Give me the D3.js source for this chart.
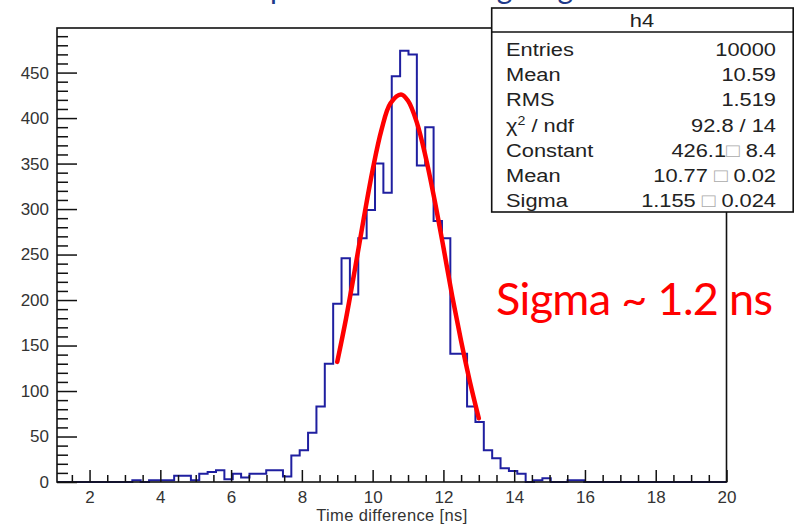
<!DOCTYPE html>
<html>
<head>
<meta charset="utf-8">
<script src="https://cdn.jsdelivr.net/npm/d3@7"></script>
<style>
  body { margin: 0; background: #fff; }
  svg { display: block; }
</style>
</head>
<body>
<div id="chart"></div>
<script>
// histogram h4: 80 bins between xMin and xMax
const xMin = 1.08;
const xMax = 20;
const nBins = 80;
const counts = [
  0, 0, 0, 0, 0, 0, 0, 0, 0,
  2, 0, 2, 2, 2, 7, 7, 2, 9, 11,
  13, 3, 9, 5, 9, 9, 13, 13, 6, 29,
  35, 54, 83, 130, 196, 246, 206, 268, 299, 350,
  318, 446, 474, 470, 348, 390, 287, 268, 141, 141,
  83, 66, 35, 26, 15, 12, 9, 0, 2, 4,
  0, 0, 2, 2,
  0, 0, 0, 0, 0, 0, 0, 0, 0, 0, 0, 0, 0, 0, 0, 0, 0
];
const yMax = 499;

// gaussian fit, points (9 to 13 ns)
const fitX = [9.0, 9.25, 9.5, 9.75, 10.0, 10.25, 10.5, 10.8, 11.0, 11.25, 11.5, 11.75, 12.0, 12.25, 12.5, 12.75, 13.0];
const fitY = [132, 180, 234, 290, 343, 387, 416, 426, 419, 395, 357, 310, 258, 204, 155, 110, 70];

// ticks
const xMajor = [2, 4, 6, 8, 10, 12, 14, 16, 18, 20];
const xMinor = d3.range(1.5, 20, 0.5);
const yMajor = [0, 50, 100, 150, 200, 250, 300, 350, 400, 450];
const yMinor = d3.range(10, 500, 10);

// stats box
const statTitle = "h4";
const statLabels = ["Entries", "Mean", "RMS", "chi2", "Constant", "Mean", "Sigma"];
const statValues = ["10000", "10.59", "1.519", "92.8 / 14", "426.1", "10.77 ", "1.155 "];
const statErrors = [null, null, null, null, "8.4", "0.02", "0.024"];

const titleText = "Output time at rising edge";
const noteText = "Sigma ~ 1.2 ns";
const xLabel = "Time difference [ns]";

const width = 794;
const height = 526;
const frame = { left: 57, right: 726.5, top: 28, bottom: 482 };

const svg = d3.select("#chart").append("svg")
  .attr("width", width)
  .attr("height", height);

const x = d3.scaleLinear().domain([xMin, xMax]).range([frame.left, frame.right]);
const y = d3.scaleLinear().domain([0, yMax]).range([frame.bottom, frame.top]);

// slide title, mostly cut off at the top
svg.append("text")
  .attr("x", 215)
  .attr("y", -1.5)
  .attr("textLength", 375)
  .style("font-family", "Lato, 'Open Sans', sans-serif")
  .style("font-size", "30px")
  .style("fill", "#1f3a8a")
  .text(titleText);

// histogram outline
const binW = (xMax - xMin) / nBins;
const steps = counts.map((c, i) => [xMin + i * binW, c]);
steps.push([xMax, counts[nBins - 1]]);

svg.append("path")
  .datum(steps)
  .attr("fill", "none")
  .attr("stroke", "#1f1fa0")
  .attr("stroke-width", 2)
  .attr("d", d3.line()
    .x((d) => x(d[0]))
    .y((d) => y(d[1]))
    .curve(d3.curveStepAfter));

// fit
svg.append("path")
  .datum(fitX.map((v, i) => [v, fitY[i]]))
  .attr("fill", "none")
  .attr("stroke", "#ff0000")
  .attr("stroke-width", 4.5)
  .attr("stroke-linecap", "round")
  .attr("d", d3.line()
    .x((d) => x(d[0]))
    .y((d) => y(d[1]))
    .curve(d3.curveCatmullRom));

// axes
const axisFont = (g, size) => g.selectAll("text")
  .style("font-family", "'Liberation Sans', Arial, sans-serif")
  .style("font-size", size)
  .style("fill", "#333");

const gx = svg.append("g")
  .attr("transform", `translate(0, ${frame.bottom})`)
  .call(d3.axisBottom(x).tickValues(xMajor).tickSize(-12).tickSizeOuter(0).tickPadding(9));
gx.select(".domain").remove();
axisFont(gx, "17px");

const gxm = svg.append("g")
  .attr("transform", `translate(0, ${frame.bottom})`)
  .call(d3.axisBottom(x).tickValues(xMinor.filter((v) => v % 2 !== 0)).tickSize(-7).tickSizeOuter(0).tickFormat(""));
gxm.select(".domain").remove();

const gy = svg.append("g")
  .attr("transform", `translate(${frame.left}, 0)`)
  .call(d3.axisLeft(y).tickValues(yMajor).tickSize(-20).tickSizeOuter(0).tickPadding(8));
gy.select(".domain").remove();
axisFont(gy, "17px");

const gym = svg.append("g")
  .attr("transform", `translate(${frame.left}, 0)`)
  .call(d3.axisLeft(y).tickValues(yMinor.filter((v) => v % 50 !== 0)).tickSize(-11).tickSizeOuter(0).tickFormat(""));
gym.select(".domain").remove();

svg.selectAll(".tick line").attr("stroke", "#111").attr("stroke-width", 1.5);

// frame
svg.append("rect")
  .attr("x", frame.left)
  .attr("y", frame.top)
  .attr("width", frame.right - frame.left)
  .attr("height", frame.bottom - frame.top)
  .attr("fill", "none")
  .attr("stroke", "#111")
  .attr("stroke-width", 1.6);

svg.append("text")
  .attr("x", (frame.left + frame.right) / 2)
  .attr("y", 521)
  .attr("text-anchor", "middle")
  .attr("textLength", 151)
  .style("font-family", "'Liberation Sans', Arial, sans-serif")
  .style("font-size", "16.5px")
  .style("fill", "#333")
  .text(xLabel);

// stats box
const bx = 491.7, by = 8, bw = 301.5, bh = 204;
const sx = 1.18; // stats text is a bit wide in the picture
const box = svg.append("g");
box.append("rect")
  .attr("x", bx).attr("y", by).attr("width", bw).attr("height", bh)
  .attr("fill", "#fff").attr("stroke", "#111").attr("stroke-width", 1.6);
box.append("line")
  .attr("x1", bx).attr("x2", bx + bw).attr("y1", 32).attr("y2", 32)
  .attr("stroke", "#111").attr("stroke-width", 1.4);

const statFont = (t) => t
  .style("font-family", "'Liberation Sans', Arial, sans-serif")
  .style("font-size", "18.5px")
  .style("fill", "#222");

box.append("text")
  .attr("transform", `translate(642, 27) scale(${sx}, 1)`)
  .attr("text-anchor", "middle")
  .call(statFont)
  .text(statTitle);

statLabels.forEach((lab, i) => {
  const ty = 56 + i * 25.2;
  const t = box.append("text")
    .attr("transform", `translate(506, ${ty}) scale(${sx}, 1)`)
    .call(statFont);
  if (lab === "chi2") {
    t.append("tspan").text("\u03C7");
    t.append("tspan").attr("dy", -7).style("font-size", "12px").text("2");
    t.append("tspan").attr("dy", 7).text(" / ndf");
  } else {
    t.text(lab);
  }

  const v = box.append("text")
    .attr("transform", `translate(776, ${ty}) scale(${sx}, 1)`)
    .attr("text-anchor", "end").call(statFont);
  v.append("tspan").text(statValues[i]);
  if (statErrors[i]) {
    v.append("tspan").style("font-size", "19px").style("fill", "#aaa").text("\u25A1");
    v.append("tspan").text(" " + statErrors[i]);
  }
});

// annotation
svg.append("text")
  .attr("x", 496)
  .attr("y", 315)
  .attr("textLength", 277)
  .style("font-family", "Lato, 'Open Sans', sans-serif")
  .style("font-size", "45px")
  .style("fill", "#ff0000")
  .text(noteText);
</script>
</body>
</html>
